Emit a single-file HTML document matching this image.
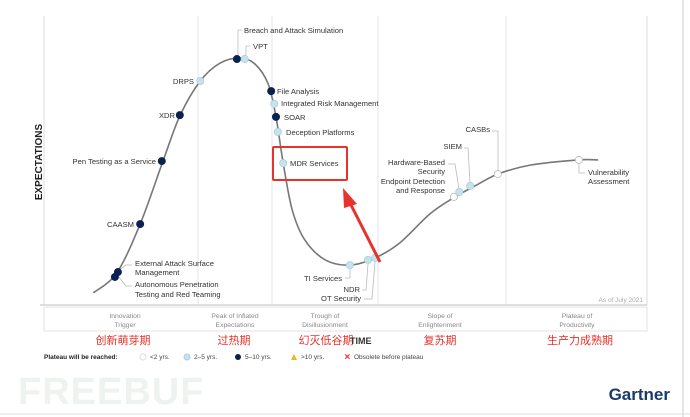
<!DOCTYPE html>
<html><head><meta charset="utf-8"><style>
html,body{margin:0;padding:0;background:#fff;width:690px;height:417px;overflow:hidden}
svg{display:block;font-family:"Liberation Sans","Noto Sans CJK SC",sans-serif}
.l{font-size:7.6px;fill:#333}
.ld{stroke:#bbb;stroke-width:0.8;fill:none}
.ph{font-size:6.8px;fill:#888;text-anchor:middle}
.cn{font-size:11px;fill:#e8322b;text-anchor:middle}
</style></head><body>
<svg width="690" height="417" viewBox="0 0 690 417">
<rect x="0" y="0" width="690" height="417" fill="#fff"/>
<line x1="683" y1="0" x2="683" y2="417" stroke="#ccc" stroke-width="1"/>
<line x1="0" y1="414" x2="690" y2="414" stroke="#ddd" stroke-width="1"/>
<g>
<line x1="44" y1="16" x2="44" y2="305" stroke="#ddd"/>
<line x1="647" y1="16" x2="647" y2="305" stroke="#ddd"/>
<line x1="198" y1="16" x2="198" y2="305" stroke="#e6e6e6"/>
<line x1="272" y1="16" x2="272" y2="305" stroke="#e6e6e6"/>
<line x1="378" y1="16" x2="378" y2="305" stroke="#e6e6e6"/>
<line x1="506" y1="16" x2="506" y2="305" stroke="#e6e6e6"/>
<line x1="40" y1="305" x2="647" y2="305" stroke="#ccc" stroke-width="1.2"/>
</g>
<text x="0" y="0" transform="translate(42,162) rotate(-90)" text-anchor="middle" font-size="10" font-weight="bold" fill="#222">EXPECTATIONS</text>
<path id="curve" fill="none" stroke="#777" stroke-width="1.6"/>
<g id="leaders">
<polyline class="ld" points="238,56 238,30 242,30"/>
<polyline class="ld" points="246,56 246,46 250,46"/>
<polyline class="ld" points="118,276 126,286 132,286"/>
<polyline class="ld" points="119,270 126,265 132,265"/>
<polyline class="ld" points="350,269 350,278 345,278"/>
<polyline class="ld" points="368,264 366,290 362,290"/>
<polyline class="ld" points="375,262 372,299 364,299"/>
<polyline class="ld" points="459,189 455,164 448,164"/>
<polyline class="ld" points="470,183 468,148 464,148"/>
<polyline class="ld" points="498,171 498,131 492,131"/>
<polyline class="ld" points="579,163 579,173 585,173"/>
</g>
<g id="dots"></g>
<g>
<text class="l" x="244" y="33">Breach and Attack Simulation</text>
<text class="l" x="253" y="49">VPT</text>
<text class="l" x="194" y="84" text-anchor="end">DRPS</text>
<text class="l" x="175" y="118" text-anchor="end">XDR</text>
<text class="l" x="156" y="164" text-anchor="end">Pen Testing as a Service</text>
<text class="l" x="134" y="227" text-anchor="end">CAASM</text>
<text class="l" x="135" y="266">External Attack Surface</text>
<text class="l" x="135" y="275">Management</text>
<text class="l" x="135" y="287">Autonomous Penetration</text>
<text class="l" x="135" y="297">Testing and Red Teaming</text>
<text class="l" x="277" y="94">File Analysis</text>
<text class="l" x="281" y="106">Integrated Risk Management</text>
<text class="l" x="284" y="120">SOAR</text>
<text class="l" x="286" y="135">Deception Platforms</text>
<text class="l" x="290" y="166">MDR Services</text>
<text class="l" x="342" y="281" text-anchor="end">TI Services</text>
<text class="l" x="360" y="292" text-anchor="end">NDR</text>
<text class="l" x="361" y="301" text-anchor="end">OT Security</text>
<text class="l" x="445" y="165" text-anchor="end">Hardware-Based</text>
<text class="l" x="445" y="174" text-anchor="end">Security</text>
<text class="l" x="445" y="184" text-anchor="end">Endpoint Detection</text>
<text class="l" x="445" y="193" text-anchor="end">and Response</text>
<text class="l" x="462" y="149" text-anchor="end">SIEM</text>
<text class="l" x="490" y="132" text-anchor="end">CASBs</text>
<text class="l" x="588" y="175">Vulnerability</text>
<text class="l" x="588" y="184">Assessment</text>
<text x="643" y="302" text-anchor="end" font-size="6.5" fill="#aaa">As of July 2021</text>
</g>
<rect x="273" y="147" width="74" height="33" fill="none" stroke="#e8322b" stroke-width="2" rx="1"/>
<g>
<line x1="380" y1="262" x2="350" y2="203" stroke="#e8322b" stroke-width="3"/>
<polygon points="343,188 357,204 344,208" fill="#e8322b"/>
</g>
<g>
<rect x="44" y="307" width="603" height="24" fill="#fff" stroke="#e3e3e3"/>
<text class="ph" x="125" y="318">Innovation</text><text class="ph" x="125" y="327">Trigger</text>
<text class="ph" x="235" y="318">Peak of Inflated</text><text class="ph" x="235" y="327">Expectations</text>
<text class="ph" x="325" y="318">Trough of</text><text class="ph" x="325" y="327">Disillusionment</text>
<text class="ph" x="440" y="318">Slope of</text><text class="ph" x="440" y="327">Enlightenment</text>
<text class="ph" x="577" y="318">Plateau of</text><text class="ph" x="577" y="327">Productivity</text>
</g>
<g>
<text class="cn" x="123" y="344">创新萌芽期</text>
<text class="cn" x="234" y="344">过热期</text>
<text class="cn" x="326" y="344">幻灭低谷期</text>
<text class="cn" x="440" y="344">复苏期</text>
<text class="cn" x="580" y="344">生产力成熟期</text>
</g>
<text x="350" y="344" font-size="9" font-weight="bold" fill="#333">TIME</text>
<g font-size="6.5" fill="#444">
<text x="44" y="359" font-weight="bold" fill="#222">Plateau will be reached:</text>
<circle cx="143" cy="357" r="3" fill="#fff" stroke="#ddd"/><text x="150" y="359">&lt;2 yrs.</text>
<circle cx="187" cy="357" r="3" fill="#c6e3ec" stroke="#acd"/><text x="194" y="359">2–5 yrs.</text>
<circle cx="238" cy="357" r="3" fill="#0b2150"/><text x="245" y="359">5–10 yrs.</text>
<polygon points="294,354 297,360 291,360" fill="#e8b923"/><text x="301" y="359">&gt;10 yrs.</text>
<text x="344" y="359.5" fill="#e8322b" font-weight="bold" font-size="8">✕</text><text x="354" y="359">Obsolete before plateau</text>
</g>
<text x="18" y="404" font-size="38" font-weight="bold" fill="#eef3ef" letter-spacing="1">FREEBUF</text>
<text x="670" y="400" text-anchor="end" font-size="17" font-weight="bold" fill="#1a3a6b">Gartner</text>
</svg>
<script>
const curveT=[8.2,12.1,16.0,19.8,22.6,26.0,29.3,32.6,35.1,37.3,38.6,39.8,41.3,43.4,46.8,50.9,55.1,59.2,64.2,68.4,71.7,75.5,80.9,88.9,92.2];
const curveE=[4.2,11.1,28.0,49.8,65.4,77.5,83.7,85.5,83.4,76.5,65.1,49.1,32.9,22.5,15.6,13.8,16.3,21.5,31.5,37.4,41.2,45.3,48.4,50.2,50.2];
const techNames=["External Attack Surface Management","Autonomous Penetration Testing and Red Teaming","CAASM","Pen Testing as a Service","XDR","DRPS","Breach and Attack Simulation","VPT","File Analysis","Integrated Risk Management","SOAR","Deception Platforms","MDR Services","TI Services","NDR","OT Security","Endpoint Detection and Response","Hardware-Based Security","SIEM","CASBs","Vulnerability Assessment"];
const techTime=[12.3,11.8,16.0,19.6,22.6,26.0,32.1,33.4,37.8,38.3,38.6,38.9,39.8,50.9,53.9,55.1,68.2,69.1,70.9,75.5,89.0];
const techExp=[11.4,9.7,28.0,49.8,65.7,77.5,85.1,85.1,74.0,69.6,65.1,59.9,49.1,13.8,15.6,16.3,37.4,39.1,41.2,45.3,50.2];
const techPlateau=["5-10","5-10","5-10","5-10","5-10","2-5","5-10","2-5","5-10","2-5","5-10","2-5","2-5","2-5","2-5","2-5","<2","2-5","2-5","<2","<2"];
function xs(t){return 44+t*6.01;}
function ys(e){return 305-e*2.89;}
(function(){
  const p=curveT.map((t,i)=>[xs(t),ys(curveE[i])]);
  let d="M"+p[0][0]+","+p[0][1];
  for(let i=0;i<p.length-1;i++){
    const p0=p[i-1]||p[i],p1=p[i],p2=p[i+1],p3=p[i+2]||p2;
    const c1x=p1[0]+(p2[0]-p0[0])/6,c1y=p1[1]+(p2[1]-p0[1])/6;
    const c2x=p2[0]-(p3[0]-p1[0])/6,c2y=p2[1]-(p3[1]-p1[1])/6;
    d+=" C"+c1x+","+c1y+" "+c2x+","+c2y+" "+p2[0]+","+p2[1];
  }
  document.getElementById('curve').setAttribute('d',d);
  const g=document.getElementById('dots');
  const NS="http://www.w3.org/2000/svg";
  techNames.forEach((n,i)=>{
    const c=document.createElementNS(NS,'circle');
    c.setAttribute('cx',xs(techTime[i]));
    c.setAttribute('cy',ys(techExp[i]));
    c.setAttribute('r',3.6);
    const k=techPlateau[i];
    c.setAttribute('fill',k==="5-10"?"#0b2150":k==="2-5"?"#c6e3ec":"#fff");
    c.setAttribute('stroke',k==="5-10"?"#0b2150":k==="2-5"?"#a9d0dc":"#bbb");
    c.setAttribute('stroke-width',0.8);
    
    
    g.appendChild(c);
  });
})();
</script>
</body></html>
